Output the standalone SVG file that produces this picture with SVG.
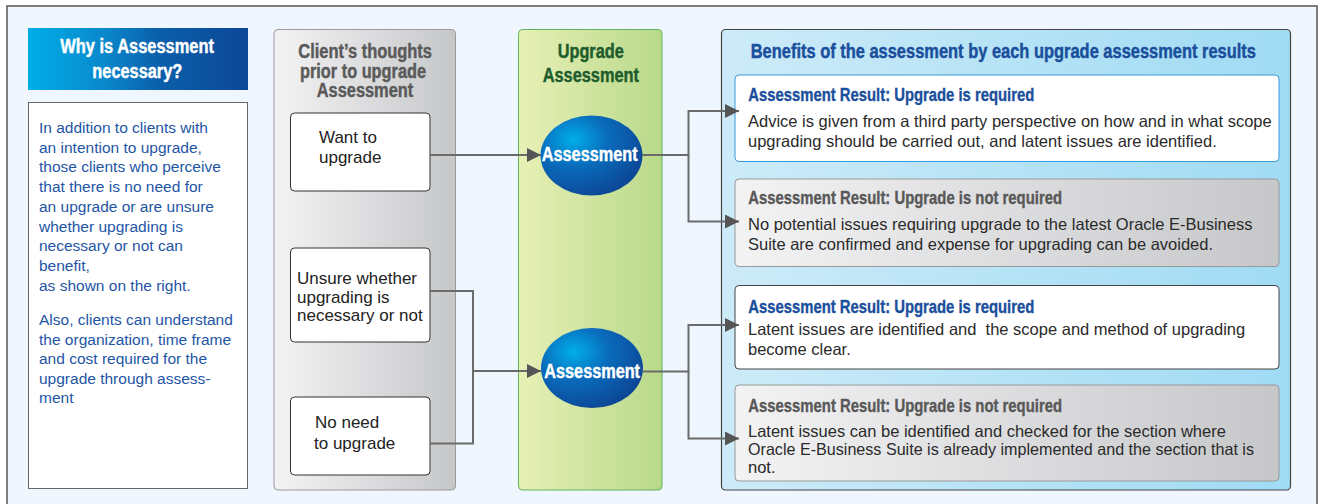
<svg xmlns="http://www.w3.org/2000/svg" width="1324" height="504" viewBox="0 0 1324 504">
<defs>
<linearGradient id="gHead" x1="0" y1="0" x2="1" y2="0">
<stop offset="0" stop-color="#00aee8"/><stop offset="0.35" stop-color="#0a88cc"/><stop offset="0.6" stop-color="#0b5eaa"/><stop offset="1" stop-color="#0c4896"/>
</linearGradient>
<linearGradient id="gGray" x1="0" y1="0" x2="1" y2="0">
<stop offset="0" stop-color="#f3f3f4"/><stop offset="1" stop-color="#c6c7c9"/>
</linearGradient>
<linearGradient id="gGreen" x1="0" y1="0" x2="1" y2="0">
<stop offset="0" stop-color="#e8f0b6"/><stop offset="1" stop-color="#b8d98a"/>
</linearGradient>
<linearGradient id="gBlue" x1="0" y1="0" x2="1" y2="0">
<stop offset="0" stop-color="#cdebf8"/><stop offset="1" stop-color="#a0dbf4"/>
</linearGradient>
<radialGradient id="gEll" cx="0.32" cy="0.3" r="0.75">
<stop offset="0" stop-color="#00aee8"/><stop offset="0.45" stop-color="#0a6cbc"/><stop offset="1" stop-color="#0c4796"/>
</radialGradient>
<marker id="arr" markerUnits="userSpaceOnUse" markerWidth="15" markerHeight="15" refX="14" refY="7" orient="auto">
<path d="M0,0 L14,7 L0,14 z" fill="#555"/>
</marker>
<style>
.hd{font-family:"Liberation Sans",Arial,sans-serif;font-weight:bold;font-size:20px;stroke-width:0.45}
.rt{font-family:"Liberation Sans",Arial,sans-serif;font-weight:bold;font-size:18px;stroke-width:0.35}
.lt{font-family:"Liberation Sans",Arial,sans-serif;font-size:15.5px;fill:#1e55a5}
.bx{font-family:"Liberation Sans",Arial,sans-serif;font-size:17px;fill:#222}
.bd{font-family:"Liberation Sans",Arial,sans-serif;font-size:16.5px;fill:#2a2a2a}
.con{fill:none;stroke:#6b6b6b;stroke-width:2}
.wb{fill:#fff;stroke:#333;stroke-width:1}
.gb{fill:url(#gGray);stroke:#999;stroke-width:1}
.w{fill:#fff;stroke:#fff}
.gr{fill:#5a5a5a;stroke:#5a5a5a}
.gn{fill:#1e5c2c;stroke:#1e5c2c}
.bl{fill:#1a4f9c;stroke:#1a4f9c}
.gt{fill:#585858;stroke:#585858}
</style>
</defs>
<rect x="0" y="0" width="1324" height="504" fill="#fff"/>
<rect x="7" y="6" width="1310" height="510" fill="#eff6fd" stroke="#555" stroke-width="1.5"/>

<g id="why-header">
<rect x="28" y="28" width="220" height="62" fill="url(#gHead)"/>
<text class="hd w" x="60.3" y="53" textLength="153.7" lengthAdjust="spacingAndGlyphs">Why is Assessment</text>
<text class="hd w" x="92.3" y="78" textLength="90" lengthAdjust="spacingAndGlyphs">necessary?</text>
</g>
<g id="why-text">
<rect x="28.5" y="102.5" width="219" height="386" fill="#fff" stroke="#666" stroke-width="1"/>
<text class="lt">
<tspan x="39" y="133">In addition to clients with</tspan>
<tspan x="39" y="152.7">an intention to upgrade,</tspan>
<tspan x="39" y="172.4">those clients who perceive</tspan>
<tspan x="39" y="192.1">that there is no need for</tspan>
<tspan x="39" y="211.8">an upgrade or are unsure</tspan>
<tspan x="39" y="231.5">whether upgrading is</tspan>
<tspan x="39" y="251.2">necessary or not can</tspan>
<tspan x="39" y="270.9">benefit,</tspan>
<tspan x="39" y="290.6">as shown on the right.</tspan>
<tspan x="39" y="325">Also, clients can understand</tspan>
<tspan x="39" y="344.5">the organization, time frame</tspan>
<tspan x="39" y="364">and cost required for the</tspan>
<tspan x="39" y="383.5">upgrade through assess-</tspan>
<tspan x="39" y="403">ment</tspan>
</text>
</g>

<g id="client-column">
<rect x="274" y="29.5" width="181.5" height="460.5" rx="4" fill="url(#gGray)" stroke="#9a9a9a" stroke-width="1"/>
<text class="hd gr" x="298.3" y="58" textLength="133.7" lengthAdjust="spacingAndGlyphs">Client’s thoughts</text>
<text class="hd gr" x="300" y="77.5" textLength="126" lengthAdjust="spacingAndGlyphs">prior to upgrade</text>
<text class="hd gr" x="316.7" y="97" textLength="96.6" lengthAdjust="spacingAndGlyphs">Assessment</text>
</g>
<g id="want">
<rect class="wb" x="290.5" y="113" width="139.5" height="78" rx="4"/>
<text class="bx"><tspan x="319" y="143.3">Want to</tspan><tspan x="319" y="163">upgrade</tspan></text>
</g>
<g id="unsure">
<rect class="wb" x="290.5" y="248" width="139.5" height="94" rx="4"/>
<text class="bx"><tspan x="297" y="284">Unsure whether</tspan><tspan x="297" y="302.5">upgrading is</tspan><tspan x="297" y="321">necessary or not</tspan></text>
</g>
<g id="noneed">
<rect class="wb" x="290.5" y="397" width="139.5" height="78" rx="4"/>
<text class="bx"><tspan x="315" y="428">No need</tspan><tspan x="314" y="448.5">to upgrade</tspan></text>
</g>

<g id="assessment-column">
<rect x="518.5" y="29.5" width="143.5" height="460.5" rx="4" fill="url(#gGreen)" stroke="#5fb35f" stroke-width="1"/>
<text class="hd gn" x="557.7" y="58" textLength="66" lengthAdjust="spacingAndGlyphs">Upgrade</text>
<text class="hd gn" x="542.7" y="82" textLength="96.3" lengthAdjust="spacingAndGlyphs">Assessment</text>
</g>
<g id="assess1">
<ellipse cx="591.5" cy="155.5" rx="51" ry="40" fill="url(#gEll)"/>
<text class="hd w" x="541.7" y="161" textLength="96" lengthAdjust="spacingAndGlyphs">Assessment</text>
</g>
<g id="assess2">
<ellipse cx="592" cy="368" rx="51" ry="40" fill="url(#gEll)"/>
<text class="hd w" x="544.3" y="377.5" textLength="95.7" lengthAdjust="spacingAndGlyphs">Assessment</text>
</g>

<g id="benefits-panel">
<rect x="721.5" y="29.5" width="569" height="460.5" rx="4" fill="url(#gBlue)" stroke="#444" stroke-width="1.2"/>
<text class="hd bl" transform="translate(750.7 57.7) scale(0.822 1)" x="0" y="0" textLength="614.7" lengthAdjust="spacingAndGlyphs">Benefits of the assessment by each upgrade assessment results</text>
</g>
<g id="result1">
<rect x="735" y="75" width="544" height="86.5" rx="4" fill="#fff" stroke="#3a9ad9" stroke-width="1"/>
<text class="rt bl" x="748.3" y="101" textLength="286" lengthAdjust="spacingAndGlyphs">Assessment Result: Upgrade is required</text>
<text class="bd"><tspan x="748" y="127">Advice is given from a third party perspective on how and in what scope</tspan><tspan x="748" y="147">upgrading should be carried out, and latent issues are identified.</tspan></text>
</g>
<g id="result2">
<rect class="gb" x="735" y="179" width="544" height="87.5" rx="4"/>
<text class="rt gt" x="748.3" y="204" textLength="313.7" lengthAdjust="spacingAndGlyphs">Assessment Result: Upgrade is not required</text>
<text class="bd"><tspan x="748" y="230">No potential issues requiring upgrade to the latest Oracle E-Business</tspan><tspan x="748" y="250">Suite are confirmed and expense for upgrading can be avoided.</tspan></text>
</g>
<g id="result3">
<rect x="735" y="285.5" width="544" height="83.5" rx="4" fill="#fff" stroke="#444" stroke-width="1"/>
<text class="rt bl" x="748.3" y="313" textLength="286" lengthAdjust="spacingAndGlyphs">Assessment Result: Upgrade is required</text>
<text class="bd"><tspan x="748" y="334.5">Latent issues are identified and&#160; the scope and method of upgrading</tspan><tspan x="748" y="354.5">become clear.</tspan></text>
</g>
<g id="result4">
<rect class="gb" x="735" y="385" width="544" height="96" rx="4"/>
<text class="rt gt" x="748.3" y="412" textLength="313.7" lengthAdjust="spacingAndGlyphs">Assessment Result: Upgrade is not required</text>
<text class="bd"><tspan x="748" y="437">Latent issues can be identified and checked for the section where</tspan><tspan x="748" y="455" textLength="506" lengthAdjust="spacingAndGlyphs">Oracle E-Business Suite is already implemented and the section that is</tspan><tspan x="748" y="473">not.</tspan></text>
</g>

<g id="connectors">
<path class="con" d="M430,155 H541" marker-end="url(#arr)"/>
<path class="con" d="M430,291 H473 V443.5 H430"/>
<path class="con" d="M473,371 H541" marker-end="url(#arr)"/>
<path class="con" d="M642,155 H688.5 V111 H739" marker-end="url(#arr)"/>
<path class="con" d="M688.5,155 V221.5 H739" marker-end="url(#arr)"/>
<path class="con" d="M643,371.5 H688.5 V325 H739" marker-end="url(#arr)"/>
<path class="con" d="M688.5,371.5 V438.5 H739" marker-end="url(#arr)"/>
</g>
</svg>
